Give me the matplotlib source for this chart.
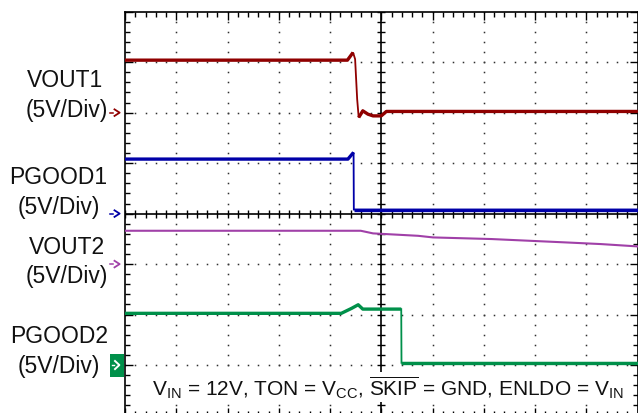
import numpy as np
import matplotlib
matplotlib.use("Agg")
import matplotlib.pyplot as plt
from matplotlib.patches import Rectangle

plt.rcParams['font.family'] = ['Liberation Sans', 'DejaVu Sans']
plt.rcParams['mathtext.fontset'] = 'custom'
plt.rcParams['mathtext.rm'] = 'Liberation Sans'
plt.rcParams['mathtext.it'] = 'Liberation Sans:italic'
plt.rcParams['mathtext.bf'] = 'Liberation Sans:bold'

# ---- data (time in divisions, volts; 5 V/div) ----
t_vout1 = [0, 4.34, 4.45, 4.49, 4.53, 4.56, 4.64, 4.74, 4.84, 5.00, 5.10, 10]
v_vout1 = [5.2, 5.2, 5.96, 5.3, 1.34, -0.48, 0.18, -0.15, -0.32, -0.32, 0.12, 0.12]

t_pgood1 = [0, 4.35, 4.46, 4.465, 10]
v_pgood1 = [5.4, 5.4, 6.06, 0.4, 0.4]

t_vout2 = [0, 4.6, 4.84, 5.72, 6.01, 7.15, 8.58, 9.29, 10]
v_vout2 = [3.3, 3.3, 3.04, 2.8, 2.64, 2.48, 2.15, 1.98, 1.75]

t_pgood2 = [0, 4.22, 4.42, 4.55, 4.64, 5.39, 5.395, 10]
v_pgood2 = [5.12, 5.12, 5.61, 5.97, 5.54, 5.54, 0.22, 0.22]

channels = ["VOUT1", "PGOOD1", "VOUT2", "PGOOD2"]
scale_label = "(5V/Div)"
ground_div = [6, 4, 3, 1]
volts_per_div = 5.0
colors = ["#900000", "#0000A8", "#A040A8", "#00904A"]

fig = plt.figure(figsize=(6.38, 4.14), dpi=100)
ax = fig.add_axes([125/638, (414-416.5)/414, 512.5/638, 403.8/414])
ax.set_xlim(0, 10)
ax.set_ylim(0, 8)

# frame ticks
ax.set_xticks(np.arange(0, 11, 1))
ax.set_yticks(np.arange(0, 9, 1))
ax.set_xticks(np.arange(0, 10.01, 0.2), minor=True)
ax.set_yticks(np.arange(0, 8.01, 0.2), minor=True)
ax.tick_params(which='both', direction='in', top=True, right=True, bottom=True, left=True,
               labelbottom=False, labelleft=False, color='black', width=1.0)
ax.tick_params(which='major', length=6)
ax.tick_params(which='minor', length=3.3)
for s in ax.spines.values():
    s.set_linewidth(1.2)

# dotted grid
minor = np.arange(0, 10.01, 0.2)
minor_y = np.arange(0, 8.01, 0.2)
for gx in range(1, 10):
    if gx == 5:
        continue
    ax.plot(np.full_like(minor_y, gx), minor_y, ls='none', marker='s', ms=1.1,
            color='#303030', mew=0, zorder=1)
for gy in range(1, 8):
    if gy == 4:
        continue
    ax.plot(minor, np.full_like(minor, gy), ls='none', marker='s', ms=1.1,
            color='#303030', mew=0, zorder=1)

# centre crosshair
ax.axhline(4, color='black', lw=1.2, zorder=2)
ax.axvline(5, color='black', lw=1.2, zorder=2)
ax.plot(minor, np.full_like(minor, 4), ls='none', marker='|', ms=6, mew=1.0, color='black', zorder=2)
ax.plot(np.full_like(minor_y, 5), minor_y, ls='none', marker='_', ms=6, mew=1.0, color='black', zorder=2)

# traces
def to_div(v, g):
    return g + np.asarray(v) / volts_per_div

traces = [(t_vout1, v_vout1), (t_pgood1, v_pgood1), (t_vout2, v_vout2), (t_pgood2, v_pgood2)]
thick_segments = [[(0, 3), (5, 12)], [(0, 3), (3, 5)], [], [(0, 6), (6, 8)]]
for i, (t, v) in enumerate(traces):
    y = to_div(v, ground_div[i])
    lw = 1.5 if i == 2 else 1.3
    ax.plot(t, y, color=colors[i], lw=lw, zorder=4, solid_joinstyle='miter')
    for a, b in thick_segments[i]:
        if i == 1 and a == 3:
            a = 3
        ax.plot(t[a:b], y[a:b], color=colors[i], lw=2.4, zorder=4, solid_capstyle='butt')

# ground markers left of the axes
for i in range(3):
    g = ground_div[i]
    ax.plot([-0.29, -0.235], [g, g], color=colors[i], lw=1.1, clip_on=False)
    ax.plot([-0.205, -0.105, -0.205], [g + 0.065, g, g - 0.065], color=colors[i],
            lw=1.3, clip_on=False)
g = ground_div[3]
ax.add_patch(Rectangle((-0.293, g - 0.24), 0.275, 0.45, facecolor=colors[3],
                       edgecolor='none', clip_on=False, zorder=5))
ax.plot([-0.25, -0.21], [g, g], color='white', lw=1.0, clip_on=False, zorder=6)
ax.plot([-0.195, -0.11, -0.195], [g + 0.08, g, g - 0.08], color='white', lw=1.4,
        clip_on=False, zorder=6)

# left labels (pixel positions converted to figure fractions)
labels = [
    ("VOUT1", 65.5, 87.0), (scale_label, 66.5, 117.5),
    ("PGOOD1", 58.5, 184.5), (scale_label, 58.5, 214.5),
    ("VOUT2", 66.5, 254.0), (scale_label, 66.5, 283.5),
    ("PGOOD2", 59.0, 343.5), (scale_label, 59.0, 373.5),
]
for txt, px, py in labels:
    fig.text(px / 638, 1 - py / 414, txt, ha='center', va='baseline', fontsize=16.5,
             color='#111111')

# condition annotation
ax.text(5.12, 0.41,
        r'V$_\mathrm{IN}$ = 12V, TON = V$_\mathrm{CC}$, $\overline{\mathrm{SKIP}}$ = GND, ENLDO = V$_\mathrm{IN}$',
        ha='center', va='baseline', fontsize=15, color='#111111', zorder=7,
        bbox=dict(facecolor='white', edgecolor='none', pad=1.5))

fig.savefig("out.png", dpi=100)
